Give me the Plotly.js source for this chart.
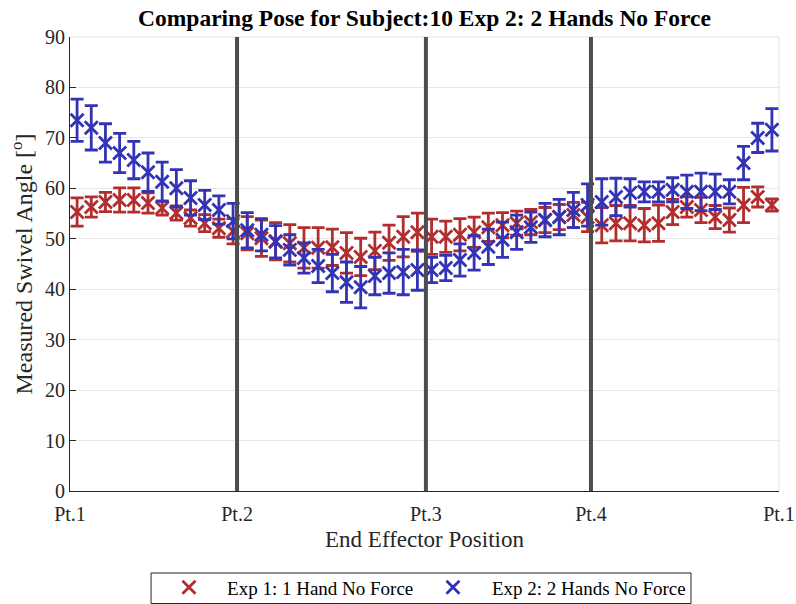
<!DOCTYPE html>
<html>
<head>
<meta charset="utf-8">
<script src="https://cdn.plot.ly/plotly-3.0.1.min.js"></script>
<style>
  html, body { margin: 0; padding: 0; background: #ffffff; }
  #chart { width: 796px; height: 604px; }
</style>
</head>
<body>
<div id="chart"></div>
<script>
// Sample index along the end-effector path (one sample per marker)
const sampleIdx = [1, 2, 3, 4, 5, 6, 7, 8, 9, 10,
  11, 12, 13, 14, 15, 16, 17, 18, 19, 20,
  21, 22, 23, 24, 25, 26, 27, 28, 29, 30,
  31, 32, 33, 34, 35, 36, 37, 38, 39, 40,
  41, 42, 43, 44, 45, 46, 47, 48, 49, 50];

// Exp 1: 1 Hand No Force — mean swivel angle and spread (deg)
const exp1Mean = [55.3, 56.3, 57.3, 57.7, 57.7, 57.1, 56.1, 55.1, 54.1, 53.1,
  52.1, 51.5, 51.1, 50.1, 49.5, 49.1, 48.2, 48.2, 48.3, 47.2,
  46.4, 47.6, 49.2, 50.4, 51.3, 50.4, 50.4, 50.8, 51.3, 52.3,
  52.7, 53.1, 53.3, 53.7, 54.3, 54.7, 54.3, 52.7, 53.1, 53.1,
  52.7, 53.1, 55.3, 56.3, 55.7, 54.3, 53.7, 56.7, 58.3, 56.7];
const exp1Err = [2.8, 2.0, 1.9, 2.4, 2.4, 2.0, 1.4, 1.4, 1.6, 1.7,
  1.8, 2.5, 3.3, 3.6, 3.7, 3.7, 4.0, 4.0, 3.6, 4.0,
  3.7, 3.7, 3.5, 4.0, 3.8, 3.5, 3.1, 3.2, 3.0, 2.8,
  2.5, 2.4, 2.5, 2.5, 2.5, 2.5, 2.9, 3.5, 3.5, 3.5,
  3.3, 3.6, 2.5, 2.0, 2.5, 2.3, 2.4, 3.5, 2.0, 1.2];

// Exp 2: 2 Hands No Force — mean swivel angle and spread (deg)
const exp2Mean = [73.5, 72.0, 69.0, 67.0, 65.6, 63.2, 61.3, 60.0, 58.1, 56.7,
  55.7, 53.5, 51.7, 50.8, 49.4, 47.8, 46.2, 44.6, 43.2, 41.4,
  40.4, 42.6, 43.2, 43.4, 43.8, 43.8, 44.2, 45.8, 47.2, 48.4,
  49.8, 51.3, 52.3, 53.7, 54.3, 55.7, 56.7, 57.3, 58.3, 59.1,
  59.3, 59.3, 59.7, 59.3, 59.3, 59.3, 59.3, 65.0, 70.0, 71.6];
const exp2Err = [4.2, 4.4, 3.8, 3.9, 3.7, 3.8, 3.9, 3.7, 3.4, 2.9,
  2.8, 3.5, 3.5, 3.2, 3.2, 3.0, 3.0, 3.3, 3.7, 4.0,
  4.1, 3.7, 4.0, 4.5, 4.0, 2.5, 2.5, 3.2, 3.4, 3.5,
  3.5, 3.4, 3.0, 3.3, 3.5, 3.5, 4.2, 4.6, 3.7, 2.8,
  2.0, 2.0, 2.4, 3.3, 3.7, 3.5, 2.4, 3.3, 2.9, 4.2];

// Via-point locations along the path and their labels
const ptTickVals = [0.5, 12.28, 25.6, 37.24, 50.5];
const ptTickText = ['Pt.1', 'Pt.2', 'Pt.3', 'Pt.4', 'Pt.1'];
const yTicks = [0, 10, 20, 30, 40, 50, 60, 70, 80, 90];

const seriesNames = ['Exp 1: 1 Hand No Force', 'Exp 2: 2 Hands No Force'];

const RED = '#B22E2E';
const BLUE = '#3333B5';
const SERIF = 'Liberation Serif';
const INK = '#262626';

// Non-breaking / thin spaces widen the gap between legend glyph and label
const NB = '\u00A0';
const THIN = '\u2009';

function series(name, pad, mean, err, color) {
  return {
    type: 'scatter',
    mode: 'markers',
    name: pad + name,
    x: sampleIdx,
    y: mean,
    marker: { symbol: 'x-thin-open', size: 13, color: color,
              line: { color: color, width: 2.8 } },
    error_y: { type: 'data', array: err, visible: true,
               color: color, thickness: 2.8, width: 6.5 },
    cliponaxis: false
  };
}

const traces = [
  series(seriesNames[0], NB.repeat(3) + THIN, exp1Mean, exp1Err, RED),
  series(seriesNames[1], NB.repeat(4), exp2Mean, exp2Err, BLUE)
];

// Thick separators at the intermediate via points
const shapes = ptTickVals.slice(1, 4).map(v => ({
  type: 'line', xref: 'x', yref: 'y', x0: v, x1: v, y0: 0, y1: 90,
  line: { color: '#4D4D4D', width: 4 }, layer: 'above'
}));
// Light top and right frame edges
shapes.push({ type: 'line', xref: 'paper', yref: 'paper', x0: 0, x1: 1, y0: 1, y1: 1,
  line: { color: '#E3E3E3', width: 1 }, layer: 'below' });
shapes.push({ type: 'line', xref: 'paper', yref: 'paper', x0: 1, x1: 1, y0: 0, y1: 1,
  line: { color: '#E3E3E3', width: 1 }, layer: 'below' });
// Frame around the legend
shapes.push({ type: 'rect', xref: 'paper', yref: 'paper',
  x0: 0.1143, x1: 0.8759, y0: -0.2478, y1: -0.1806,
  line: { color: INK, width: 1 }, fillcolor: 'rgba(0,0,0,0)', layer: 'above' });

const layout = {
  width: 796, height: 604,
  margin: { l: 70, r: 17, t: 37, b: 113, autoexpand: false },
  paper_bgcolor: '#ffffff',
  plot_bgcolor: '#ffffff',
  font: { family: SERIF, size: 20, color: INK },
  title: {
    text: '<b>Comparing Pose for Subject:10 Exp 2: 2 Hands No Force</b>',
    font: { family: SERIF, size: 23.5, color: '#000000' },
    xref: 'paper', x: 0.5, xanchor: 'center',
    yref: 'container', y: 0.970, yanchor: 'middle'
  },
  xaxis: {
    range: [0.5, 50.5],
    tickvals: ptTickVals, ticktext: ptTickText,
    ticks: 'inside', ticklen: 6, tickcolor: INK,
    ticklabelstandoff: 5,
    showgrid: false, zeroline: false,
    showline: true, linecolor: INK, linewidth: 1,
    tickfont: { family: SERIF, size: 20, color: INK },
    title: { text: 'End Effector Position', standoff: 6,
             font: { family: SERIF, size: 23, color: INK } }
  },
  yaxis: {
    range: [0, 90],
    tickvals: yTicks,
    ticks: 'inside', ticklen: 6, tickcolor: INK,
    showgrid: true, gridcolor: '#E6E6E6', gridwidth: 1,
    zeroline: false,
    showline: true, linecolor: INK, linewidth: 1,
    tickfont: { family: SERIF, size: 20, color: INK },
    title: { text: 'Measured Swivel Angle [<sup>o</sup>]', standoff: 5,
             font: { family: SERIF, size: 24, color: INK } }
  },
  shapes: shapes,
  showlegend: true,
  legend: {
    orientation: 'h',
    x: 0.1396, xanchor: 'left',
    y: -0.1706, yanchor: 'top',
    borderwidth: 0,
    bgcolor: 'rgba(0,0,0,0)',
    font: { family: SERIF, size: 19, color: '#000000' },
    entrywidth: 219, entrywidthmode: 'pixels',
    itemwidth: 30
  }
};

Plotly.newPlot('chart', traces, layout, { displayModeBar: false, staticPlot: true });
</script>
</body>
</html>
